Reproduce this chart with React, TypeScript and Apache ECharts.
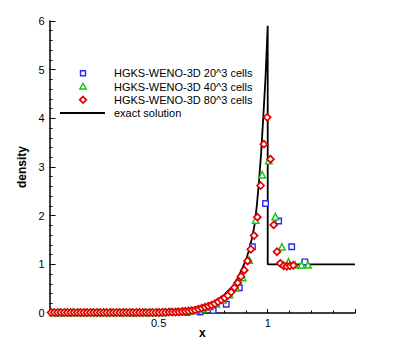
import React, { useEffect, useRef } from "react";
import * as echarts from "echarts";

// Cell sizes of the three grids (domain 0..1.2)
const blueDx = 0.06;
const greenDx = 0.03;
const redDx = 0.015;

const blueDensity = [
  0.005, 0.005, 0.005, 0.005, 0.005, 0.005, 0.005, 0.005, 0.005, 0.01,
  0.01, 0.02, 0.05, 0.18, 0.52, 1.36, 2.25, 1.89, 1.36, 1.05,
];

const greenDensity = [
  0.01, 0.01, 0.01, 0.01, 0.01, 0.01, 0.01, 0.01, 0.01, 0.01,
  0.01, 0.01, 0.01, 0.01, 0.01, 0.01, 0.015, 0.015, 0.02, 0.025,
  0.03, 0.04, 0.06, 0.09, 0.13, 0.19, 0.27, 0.38, 0.52, 0.73,
  1.09, 1.91, 2.84, 3.13, 1.98, 1.36, 1.05, 0.99, 0.99, 0.99,
];

const redDensity = [
  0.01, 0.01, 0.01, 0.01, 0.01, 0.01, 0.01, 0.01, 0.01, 0.01,
  0.01, 0.01, 0.01, 0.01, 0.01, 0.01, 0.01, 0.01, 0.01, 0.01,
  0.01, 0.01, 0.01, 0.01, 0.01, 0.01, 0.01, 0.01, 0.01, 0.01,
  0.01, 0.01, 0.01, 0.01, 0.015, 0.015, 0.02, 0.02, 0.02, 0.025,
  0.03, 0.035, 0.04, 0.05, 0.06, 0.08, 0.1, 0.12, 0.14, 0.16,
  0.19, 0.23, 0.27, 0.31, 0.36, 0.43, 0.52, 0.62, 0.75, 0.88,
  1.07, 1.31, 1.59, 1.97, 2.62, 3.47, 4.02, 3.16, 1.81, 1.26,
  1.02, 0.97, 0.96, 0.97, 0.98,
];

const exactX = [
  0, 0.3, 0.45, 0.5, 0.55, 0.6, 0.65, 0.7, 0.75, 0.8, 0.84, 0.86, 0.88, 0.9,
  0.915, 0.93, 0.94, 0.95, 0.96, 0.97, 0.98, 0.99, 1.0, 1.0, 1.4,
];
const exactDensity = [
  0, 0, 0.004, 0.008, 0.02, 0.035, 0.06, 0.11, 0.21, 0.37, 0.55, 0.7, 0.88,
  1.09, 1.3, 1.58, 1.82, 2.2, 2.7, 3.3, 4.05, 4.85, 5.9, 1.0, 1.0,
];

const legendLabels = [
  "HGKS-WENO-3D 20^3 cells",
  "HGKS-WENO-3D 40^3 cells",
  "HGKS-WENO-3D 80^3 cells",
  "exact solution",
];

const BLUE = "#2a2af2";
const GREEN = "#16c416";
const RED = "#e00000";
const FONT = "'Liberation Sans', Arial, Helvetica, sans-serif";

const cells = (vals: number[], dx: number) =>
  vals.map((v, i) => [(i + 0.5) * dx, v]);

export default function App() {
  const ref = useRef<HTMLDivElement>(null);
  useEffect(() => {
    if (!ref.current) return;
    const chart = echarts.init(ref.current, null, { renderer: "svg" });
    const lx = 83;
    const rows = [73.3, 86.6, 99.8, 113];
    const textX = 114;
    chart.setOption({
      animation: false,
      backgroundColor: "#fff",
      grid: { left: 49.5, right: 40, top: 21, bottom: 38 },
      xAxis: {
        type: "value",
        min: 0,
        max: 1.4,
        interval: 0.5,
        name: "x",
        nameLocation: "middle",
        nameGap: 14,
        nameMoveOverlap: false,
        nameTextStyle: { fontFamily: FONT, fontSize: 12, fontWeight: "bold", color: "#000" },
        axisLine: { onZero: false, lineStyle: { color: "#000", width: 1.5 } },
        axisTick: { inside: true, length: 4, lineStyle: { color: "#000", width: 1 } },
        minorTick: { show: true, splitNumber: 5, length: 2.5, lineStyle: { color: "#000", width: 1 } },
        splitLine: { show: false },
        axisLabel: {
          fontFamily: FONT,
          fontSize: 11,
          color: "#000",
          margin: 4,
          showMinLabel: false,
          showMaxLabel: false,
          formatter: (v: number) => (v === 0 ? "" : String(v)),
        },
      },
      yAxis: {
        type: "value",
        min: 0,
        max: 6,
        interval: 1,
        name: "density",
        nameLocation: "middle",
        nameGap: 22,
        nameMoveOverlap: false,
        nameTextStyle: { fontFamily: FONT, fontSize: 12, fontWeight: "bold", color: "#000" },
        axisLine: { show: true, onZero: false, lineStyle: { color: "#000", width: 1.5 } },
        axisTick: { show: true, inside: true, length: 6, lineStyle: { color: "#000", width: 1 } },
        minorTick: { show: true, splitNumber: 5, length: 3, lineStyle: { color: "#000", width: 1 } },
        splitLine: { show: false },
        axisLabel: { fontFamily: FONT, fontSize: 11, color: "#000", margin: 5 },
      },
      series: [
        {
          type: "line",
          name: legendLabels[3],
          data: exactX.map((x, i) => [x, exactDensity[i]]),
          showSymbol: false,
          symbol: "none",
          lineStyle: { color: "#000", width: 1.8 },
          z: 1,
        },
        {
          type: "scatter",
          name: legendLabels[0],
          data: cells(blueDensity, blueDx),
          symbol: "rect",
          symbolSize: 5.5,
          itemStyle: { color: "#fff", borderColor: BLUE, borderWidth: 1.4, opacity: 1 },
          z: 2,
        },
        {
          type: "scatter",
          name: legendLabels[1],
          data: cells(greenDensity, greenDx),
          symbol: "triangle",
          symbolSize: 6.5,
          itemStyle: { color: "#fff", borderColor: GREEN, borderWidth: 1.4, opacity: 1 },
          z: 3,
        },
        {
          type: "scatter",
          name: legendLabels[2],
          data: cells(redDensity, redDx),
          symbol: "diamond",
          symbolSize: 7,
          itemStyle: { color: "#fff", borderColor: RED, borderWidth: 1.7, opacity: 1 },
          z: 4,
        },
      ],
      graphic: [
        {
          type: "rect",
          shape: { x: lx - 2.5, y: rows[0] - 2.5, width: 5, height: 5 },
          style: { fill: "#fff", stroke: BLUE, lineWidth: 1.4 },
        },
        {
          type: "polygon",
          shape: { points: [[lx, rows[1] - 3.2], [lx + 3.2, rows[1] + 2.4], [lx - 3.2, rows[1] + 2.4]] },
          style: { fill: "#fff", stroke: GREEN, lineWidth: 1.4 },
        },
        {
          type: "polygon",
          shape: { points: [[lx, rows[2] - 3.3], [lx + 3.3, rows[2]], [lx, rows[2] + 3.3], [lx - 3.3, rows[2]]] },
          style: { fill: "#fff", stroke: RED, lineWidth: 1.7 },
        },
        {
          type: "line",
          shape: { x1: 60, y1: rows[3], x2: 105, y2: rows[3] },
          style: { stroke: "#000", lineWidth: 1.8 },
        },
        ...legendLabels.map((t, i) => ({
          type: "text",
          x: textX,
          y: rows[i],
          style: {
            text: t,
            fontFamily: FONT,
            fontSize: 11,
            fill: "#000",
            verticalAlign: "middle",
            textAlign: "left",
          },
        })),
      ],
    });
    return () => chart.dispose();
  }, []);
  return (
    <div
      ref={ref}
      style={{ position: "fixed", left: 0, top: 0, width: 395, height: 351, background: "#fff" }}
    />
  );
}
